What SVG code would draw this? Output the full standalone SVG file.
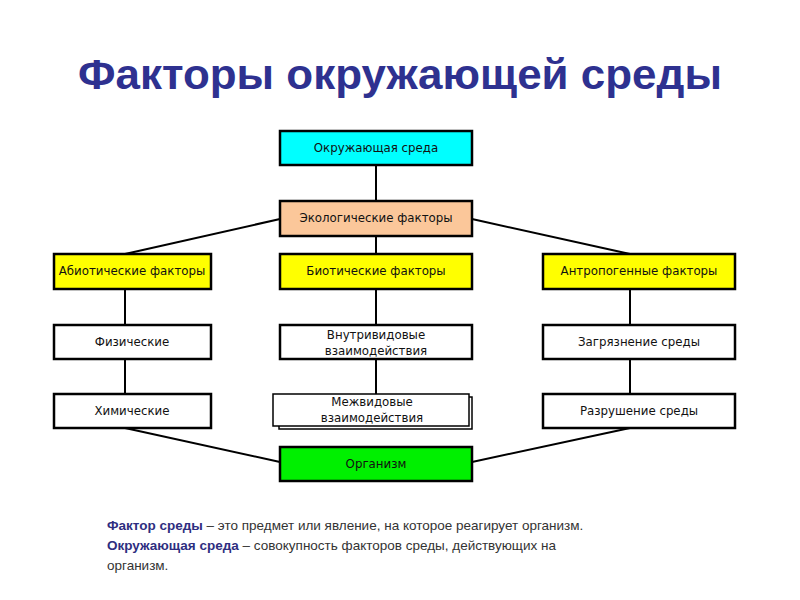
<svg xmlns="http://www.w3.org/2000/svg" width="800" height="600" viewBox="0 0 800 600">
<style>
.box{stroke:#000;stroke-width:2.5}
.lbl{font-family:"DejaVu Sans",sans-serif;font-size:11.8px;text-anchor:middle;fill:#111}
.con{stroke:#000;stroke-width:2;fill:none}
.ft{font-family:"Liberation Sans",Arial,sans-serif;font-size:13.5px;fill:#333}
.ftb{font-weight:bold;fill:#2E2E80}
</style>
<rect width="800" height="600" fill="#fff"/>
<text x="400" y="89" font-family="Liberation Sans,Arial,sans-serif" font-size="42" font-weight="bold" fill="#2E3190" text-anchor="middle" textLength="644" lengthAdjust="spacingAndGlyphs">Факторы окружающей среды</text>
<g id="connectors">
<line class="con" x1="376" y1="165" x2="376" y2="201"/>
<line class="con" x1="376" y1="236" x2="376" y2="254"/>
<line class="con" x1="280" y1="219" x2="125" y2="254"/>
<line class="con" x1="472" y1="219" x2="630" y2="254"/>
<line class="con" x1="125" y1="289" x2="125" y2="325"/>
<line class="con" x1="125" y1="359" x2="125" y2="394"/>
<line class="con" x1="376" y1="289" x2="376" y2="325"/>
<line class="con" x1="376" y1="359" x2="376" y2="394"/>
<line class="con" x1="630" y1="289" x2="630" y2="325"/>
<line class="con" x1="630" y1="359" x2="630" y2="394"/>
<line class="con" x1="125" y1="428" x2="280" y2="462"/>
<line class="con" x1="630" y1="428" x2="472" y2="462"/>
</g>
<g id="n-env"><rect class="box" x="280" y="131" width="192" height="34" fill="#00FFFF"/><text class="lbl" x="376" y="152" fill="#124">Окружающая среда</text></g>
<g id="n-eco"><rect class="box" x="280" y="201" width="192" height="35" fill="#FBC79A"/><text class="lbl" x="376" y="222">Экологические факторы</text></g>
<g id="n-abio"><rect class="box" x="54" y="254" width="157" height="35" fill="#FFFF00"/><text class="lbl" x="132" y="275">Абиотические факторы</text></g>
<g id="n-bio"><rect class="box" x="280" y="254" width="192" height="35" fill="#FFFF00"/><text class="lbl" x="376" y="275">Биотические факторы</text></g>
<g id="n-anthro"><rect class="box" x="543" y="254" width="192" height="35" fill="#FFFF00"/><text class="lbl" x="639" y="275">Антропогенные факторы</text></g>
<g id="n-phys"><rect class="box" x="54" y="325" width="157" height="34" fill="#fff"/><text class="lbl" x="132" y="346">Физические</text></g>
<g id="n-intra"><rect class="box" x="280" y="325" width="192" height="34" fill="#fff"/><text class="lbl" x="376" y="339">Внутривидовые</text><text class="lbl" x="376" y="355">взаимодействия</text></g>
<g id="n-poll"><rect class="box" x="543" y="325" width="192" height="34" fill="#fff"/><text class="lbl" x="639" y="346">Загрязнение среды</text></g>
<g id="n-chem"><rect class="box" x="54" y="394" width="157" height="34" fill="#fff"/><text class="lbl" x="132" y="415">Химические</text></g>
<g id="n-inter"><rect x="279" y="397" width="193" height="32" fill="#fff" stroke="#000" stroke-width="1.5"/><rect x="273" y="394" width="196" height="32" fill="#fff" stroke="#000" stroke-width="1.5"/><text class="lbl" x="372" y="406">Межвидовые</text><text class="lbl" x="372" y="422">взаимодействия</text></g>
<g id="n-destr"><rect class="box" x="543" y="394" width="192" height="34" fill="#fff"/><text class="lbl" x="639" y="415">Разрушение среды</text></g>
<g id="n-org"><rect class="box" x="280" y="447" width="192" height="34" fill="#00F000"/><text class="lbl" x="376" y="468" fill="#145014">Организм</text></g>
<text class="ft" x="107" y="530"><tspan class="ftb">Фактор среды</tspan> – это предмет или явление, на которое реагирует организм.</text>
<text class="ft" x="107" y="550"><tspan class="ftb">Окружающая среда</tspan> – совокупность факторов среды, действующих на</text>
<text class="ft" x="107" y="570">организм.</text>
</svg>
